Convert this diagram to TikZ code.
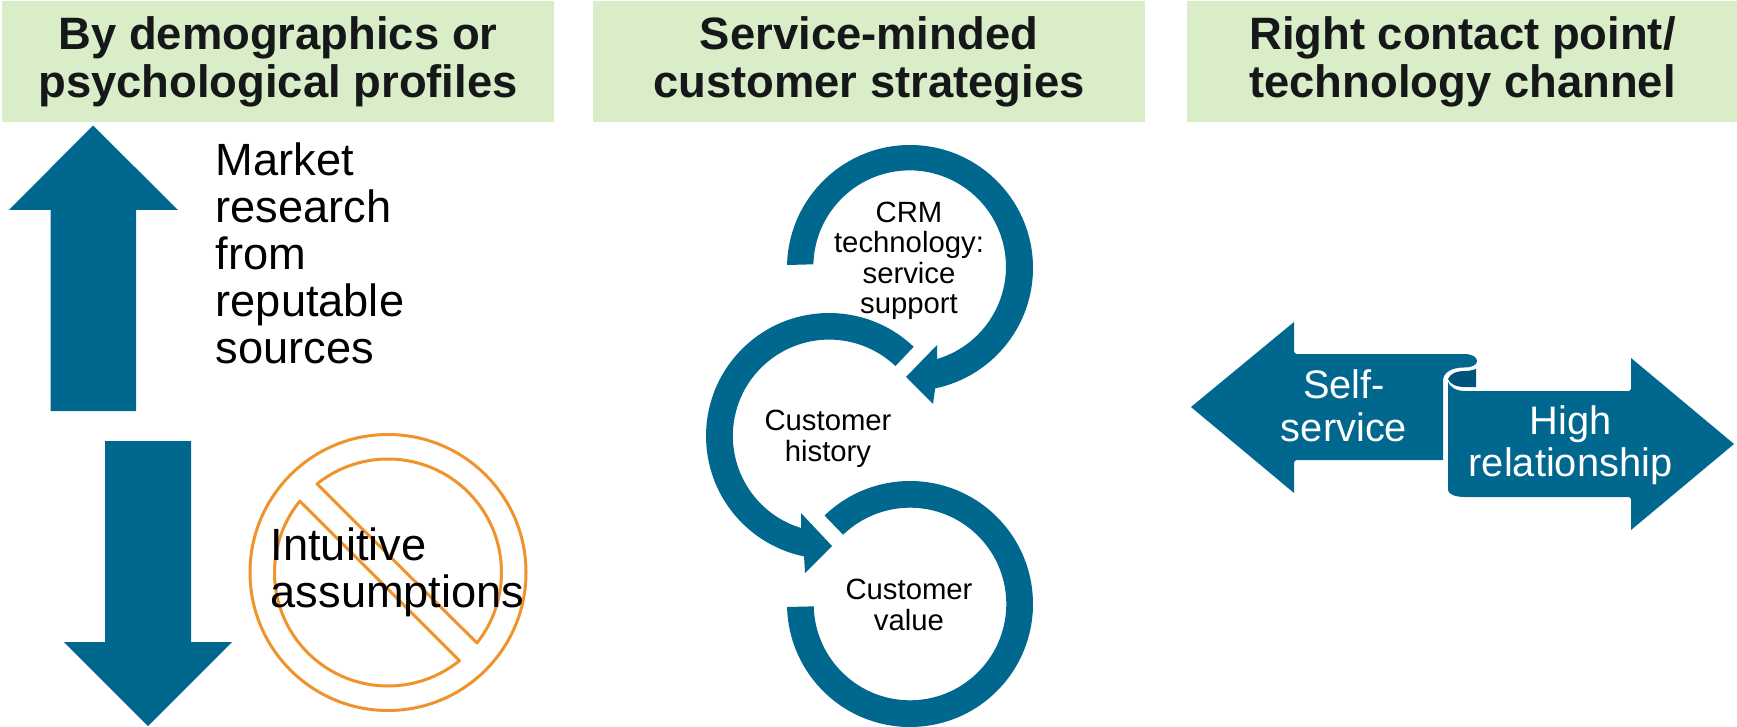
\documentclass[tikz,border=0pt]{standalone}
\usepackage{fontspec}
\setmainfont{Liberation Sans}
\definecolor{hdrgreen}{HTML}{D9EEC8}
\definecolor{mainblue}{HTML}{00678F}
\definecolor{folddark}{HTML}{00537A}
\definecolor{noorange}{HTML}{F0932B}
\definecolor{hdrtext}{HTML}{151718}
\tikzset{
  hdrbox/.style={fill=hdrgreen,draw=none},
  bluefill/.style={fill=mainblue,draw=none},
  hdrlabel/.style={inner sep=0,align=center,text=hdrtext,font=\fontsize{45.4}{48}\selectfont\bfseries},
  biglabel/.style={inner sep=0,align=left,text=black,font=\fontsize{45.2}{47}\selectfont},
  ringlabel/.style={inner sep=0,align=center,text=black,font=\fontsize{29.3}{30.5}\selectfont},
  arrowlabel/.style={inner sep=0,align=center,text=white,font=\fontsize{39.8}{42.5}\selectfont},
  noline/.style={draw=noorange,line width=3,fill=none,line join=round}
}
\begin{document}
\begin{tikzpicture}[x=1pt,y=1pt]
\useasboundingbox (0,0) rectangle (1737,-727);
% headers
\fill[hdrbox] (2,-1) rectangle (554,-122);
\fill[hdrbox] (593,-1) rectangle (1145,-122);
\fill[hdrbox] (1187,-1) rectangle (1737,-122);
\node[hdrlabel] (h1) at (278,-62) {By demographics or\\psychological profiles};
\node[hdrlabel] (h2) at (869,-62) {Service-minded\\customer strategies};
\node[hdrlabel] (h3) at (1462.5,-62) {Right contact point/\\technology channel};
% up and down arrows
\fill[bluefill] (93,-125.5) -- (178,-210) -- (136,-210) -- (136,-411) -- (50.5,-411) -- (50.5,-210) -- (9,-210) -- cycle;
\fill[bluefill] (105,-441) -- (191,-441) -- (191,-642) -- (232,-642) -- (148,-726) -- (64,-642) -- (105,-642) -- cycle;
% no symbol
\begin{scope}[shift={(388,-572.5)}]
\draw[noline] (0,0) circle[radius=138];
\draw[noline] (128.7:113.5) arc[start angle=128.7,end angle=-38.4,radius=113.5] -- cycle;
\draw[noline] (141:113.5) arc[start angle=141,end angle=309,radius=113.5] -- cycle;
\end{scope}
\node[biglabel,anchor=west] (market) at (215.5,-253.5) {Market\\research\\from\\reputable\\sources};
\node[biglabel,anchor=west] (intuitive) at (270.5,-572) {Intuitive\\assumptions};
% circular arrows
\fill[bluefill,shift={(910,-268)}] (178.6:123) arc[start angle=178.6,end angle=-78.2,radius=123] -- (23,-136) -- (-4,-109) -- (27,-77) -- (27,-91) arc[start angle=-73.5,end angle=178.6,radius=96.3] -- cycle;
\fill[bluefill,shift={(829,-436)}] (46.5:123) arc[start angle=46.5,end angle=258.3,radius=123] -- (-24,-137) -- (3,-110) -- (-28,-77) -- (-28,-92) arc[start angle=253,end angle=46.5,radius=96.3] -- cycle;
\fill[bluefill,shift={(910,-604)}] (134:123) arc[start angle=134,end angle=-178.6,radius=123] -- (-178.6:96.3) arc[start angle=-178.6,end angle=134,radius=96.3] -- cycle;
\node[ringlabel] (crm) at (909,-261) {CRM\\technology:\\service\\support};
\node[ringlabel] (hist) at (828,-439) {Customer\\history};
\node[ringlabel] (val) at (909,-605) {Customer\\value};
% scroll arrows
\fill[bluefill] (1191,-407) -- (1294,-322) -- (1294,-352) -- (1296,-354) -- (1464,-354) .. controls (1472,-354) and (1477,-357) .. (1477,-361) .. controls (1477,-365) and (1472,-367.5) .. (1464,-367.5) .. controls (1452,-367.5) and (1443,-372) .. (1443,-381) -- (1443,-460) -- (1296,-460) -- (1294,-462) -- (1294,-493) -- cycle;
\fill[bluefill] (1448,-382) .. controls (1450,-387) and (1456,-391) .. (1465,-391) -- (1629,-391) -- (1631,-389) -- (1631,-358) -- (1734,-444) -- (1631,-530) -- (1631,-499) -- (1629,-497) -- (1465,-497) .. controls (1455,-497) and (1448,-494) .. (1448,-490) -- cycle;
\fill[folddark] (1448,-379) .. controls (1450,-374) and (1456,-371) .. (1465,-371) .. controls (1469,-371) and (1473,-370) .. (1476,-369) -- (1476,-387) -- (1465,-387) .. controls (1456,-387) and (1450,-384) .. (1448,-379) -- cycle;
\node[arrowlabel] (self) at (1344,-406) {Self-\\service};
\node[arrowlabel] (high) at (1570.5,-445) {High\\relationship};
\end{tikzpicture}
\end{document}
